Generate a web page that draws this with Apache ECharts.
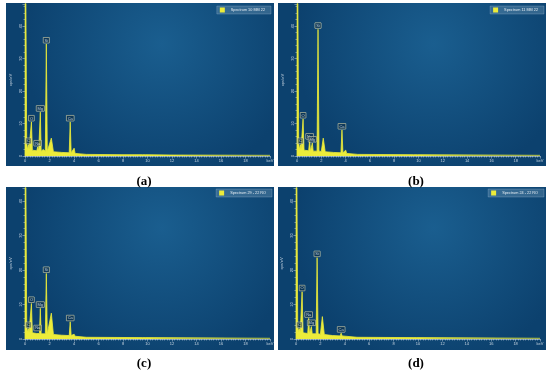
<!DOCTYPE html>
<html><head><meta charset="utf-8">
<script src="https://cdn.jsdelivr.net/npm/echarts@6/dist/echarts.min.js"></script>
<style>html,body{margin:0;padding:0;background:#fff}#c{width:550px;height:373px}</style>
</head><body><div id="c"></div>
<script>
// ---- data (energy keV, intensity in y-axis units) ----
const specA = [[0,0],[0.02,80],[0.1,80],[0.14,4],[0.2,2],[0.24,2.4],[0.28,3.5],[0.33,2],[0.45,1.8],[0.525,10.5],[0.6,1.8],[0.96,1.6],[1.04,2.8],[1.12,1.6],[1.18,1.6],[1.25,13.5],[1.32,1.5],[1.43,1.5],[1.49,2.0],[1.55,1.5],[1.66,1.5],[1.74,34.5],[1.82,1.5],[1.98,1.5],[2.15,5.5],[2.32,1.3],[3.0,1.1],[3.61,1.0],[3.69,10.5],[3.77,1.0],[3.93,0.9],[4.01,2.4],[4.09,0.8],[5,0.5],[8,0.4],[9.6,0.4],[9.71,1.0],[9.82,0.4],[12,0.3],[20,0.2]];
const specB = [[0,0],[0.02,80],[0.1,80],[0.14,4],[0.2,2],[0.24,2],[0.28,3.5],[0.33,2],[0.42,1.8],[0.5,11.4],[0.58,1.8],[0.96,1.6],[1.04,4.9],[1.11,1.5],[1.19,1.5],[1.26,4.0],[1.33,1.5],[1.65,1.5],[1.73,39],[1.81,1.5],[2.0,1.4],[2.16,5.5],[2.32,1.3],[3.0,1.1],[3.62,1.0],[3.7,8.0],[3.78,1.0],[3.93,0.9],[4.01,1.8],[4.09,0.8],[5,0.5],[9.6,0.4],[9.75,1.0],[9.9,0.4],[20,0.2]];
const specC = [[0,0],[0.02,80],[0.1,80],[0.14,4],[0.2,2],[0.24,2.2],[0.28,3.0],[0.33,2],[0.45,1.8],[0.525,10.3],[0.6,1.8],[0.96,1.6],[1.04,2.1],[1.12,1.6],[1.18,1.6],[1.25,8.9],[1.32,1.5],[1.66,1.5],[1.74,19],[1.82,1.5],[1.98,1.5],[2.15,7.5],[2.32,1.3],[3.0,1.1],[3.61,1.0],[3.69,5.0],[3.77,1.0],[3.93,0.9],[4.01,1.4],[4.09,0.8],[5,0.5],[9.6,0.4],[9.71,0.8],[9.82,0.4],[20,0.2]];
const specD = [[0,0],[0.02,80],[0.1,80],[0.14,4],[0.2,2.2],[0.24,2.4],[0.28,3.0],[0.35,2.2],[0.42,1.8],[0.5,13.7],[0.58,1.8],[0.96,1.6],[1.04,6.0],[1.11,1.5],[1.19,1.5],[1.26,3.6],[1.33,1.5],[1.65,1.5],[1.73,23.6],[1.81,1.5],[2.0,1.4],[2.16,6.5],[2.32,1.3],[3.0,1.0],[3.62,0.9],[3.7,1.7],[3.78,0.9],[5,0.5],[9.6,0.4],[9.75,0.7],[9.9,0.4],[20,0.2]];
const labelsA = [[0.28,3.5,'C'],[0.525,10.5,'O'],[1.04,2.8,'Na'],[1.25,13.5,'Mg'],[1.74,34.5,'Si'],[3.69,10.5,'Ca']];
const labelsB = [[0.28,3.5,'C'],[0.5,11.4,'O'],[1.04,4.9,'Na'],[1.26,4.0,'Mg'],[1.73,39,'Si'],[3.7,8.0,'Ca']];
const labelsC = [[0.28,3.0,'C'],[0.525,10.3,'O'],[1.04,2.1,'Na'],[1.25,8.9,'Mg'],[1.74,19,'Si'],[3.69,5.0,'Ca']];
const labelsD = [[0.28,3.0,'C'],[0.5,13.7,'O'],[1.04,6.0,'Na'],[1.26,3.6,'Mg'],[1.73,23.6,'Si'],[3.7,1.7,'Ca']];
const spectrumNames = ['Spectrum 10 MM 22','Spectrum 11 MM 22','Spectrum 29 - 22 RO','Spectrum 24 - 22 RO'];
const captions = ['a','b','c','d'];
const xLabelLast = 'keV';
const yName = 'cps/eV';

// ---- layout ----
const panels = [
  {rect:[6,3,268,163], grid:{left:25,top:4,width:245,height:152}, yMax:46.8, data:specA, labels:labelsA, legend:[279,6], cap:[139,177]},
  {rect:[278,3,268,163], grid:{left:297,top:4,width:243,height:152}, yMax:46.8, data:specB, labels:labelsB, legend:[6,6], cap:[411,177]},
  {rect:[6,187,268,163], grid:{left:25,top:188,width:245,height:151}, yMax:43.8, data:specC, labels:labelsC, legend:[278,189], cap:[139,359]},
  {rect:[278,187,268,163], grid:{left:296,top:188,width:244,height:151}, yMax:43.8, data:specD, labels:labelsD, legend:[6,189], cap:[411,359]}
];
const YEL = '#ecec3a';
const axisCol = '#c9d6e2';

const chart = echarts.init(document.getElementById('c'), null, {renderer:'canvas'});
const option = {grid:[], xAxis:[], yAxis:[], series:[], legend:[], title:[], graphic:[], animation:false};
panels.forEach((p,i)=>{
  option.graphic.push({type:'rect', z:-10, shape:{x:p.rect[0],y:p.rect[1],width:p.rect[2],height:p.rect[3]},
    style:{fill:new echarts.graphic.RadialGradient(0.58,0.25,0.85,[{offset:0,color:'#1a5e8f'},{offset:1,color:'#0c416e'}])}, silent:true});
  option.grid.push(Object.assign({containLabel:false}, p.grid));
  option.xAxis.push({type:'value', gridIndex:i, min:0, max:20, interval:2,
    axisLine:{show:true, lineStyle:{color:axisCol,width:0.6}},
    axisTick:{show:true, length:2.5, lineStyle:{color:axisCol,width:0.5}},
    minorTick:{show:true, splitNumber:10, length:1.5, lineStyle:{color:axisCol,width:0.5}},
    splitLine:{show:false},
    axisLabel:{fontSize:4, color:axisCol, margin:2.5, formatter:v=> v===20 ? xLabelLast : String(v)}});
  option.yAxis.push({type:'value', gridIndex:i, min:0, max:p.yMax, interval:10,
    name:yName, nameLocation:'middle', nameGap:12, nameTextStyle:{fontSize:4,color:axisCol},
    axisLine:{show:true, lineStyle:{color:axisCol,width:0.6}},
    axisTick:{show:true, length:2.5, lineStyle:{color:axisCol,width:0.5}},
    minorTick:{show:true, splitNumber:5, length:1.5, lineStyle:{color:axisCol,width:0.5}},
    splitLine:{show:false},
    axisLabel:{fontSize:4, color:axisCol, margin:2.5, rotate:90, showMaxLabel:false}});
  option.series.push({type:'line', name:spectrumNames[i], xAxisIndex:i, yAxisIndex:i, data:p.data,
    symbol:'none', clip:true, color:YEL, lineStyle:{color:YEL,width:0.8}, areaStyle:{color:YEL,opacity:1}, z:3});
  option.series.push({type:'scatter', xAxisIndex:i, yAxisIndex:i, symbolSize:0.1, itemStyle:{color:'rgba(0,0,0,0)'}, silent:true, z:5,
    data:p.labels.map(l=>({value:[l[0],l[1]], name:l[2]})),
    label:{show:true, position:'top', distance:1, formatter:'{b}', fontSize:4, color:'#e8ecef',
      borderColor:'#d8d8b4', borderWidth:0.5, padding:[1,1.2,0.4,1.2], backgroundColor:'rgba(10,40,60,0.6)'}});
  option.legend.push({data:[spectrumNames[i]], right:p.legend[0], top:p.legend[1], orient:'horizontal',
    itemWidth:5, itemHeight:5, itemGap:2, icon:'rect', padding:[1.5,6,1.5,3],
    backgroundColor:'rgba(120,160,190,0.35)', borderColor:'rgba(200,220,235,0.45)', borderWidth:0.5,
    textStyle:{fontSize:3.8, color:'#e4ecf2', padding:[0,0,0,1]}, selectedMode:false});
  option.title.push({text:'{p|(}{b|'+captions[i]+'}{p|)}', left:p.cap[0], top:p.cap[1], textAlign:'center', textVerticalAlign:'middle',
    textStyle:{rich:{p:{fontFamily:'Liberation Serif',fontSize:13,color:'#000'}, b:{fontFamily:'Liberation Serif',fontSize:13,fontWeight:'bold',color:'#000'}}}});
});
chart.setOption(option);
</script>
</body></html>
